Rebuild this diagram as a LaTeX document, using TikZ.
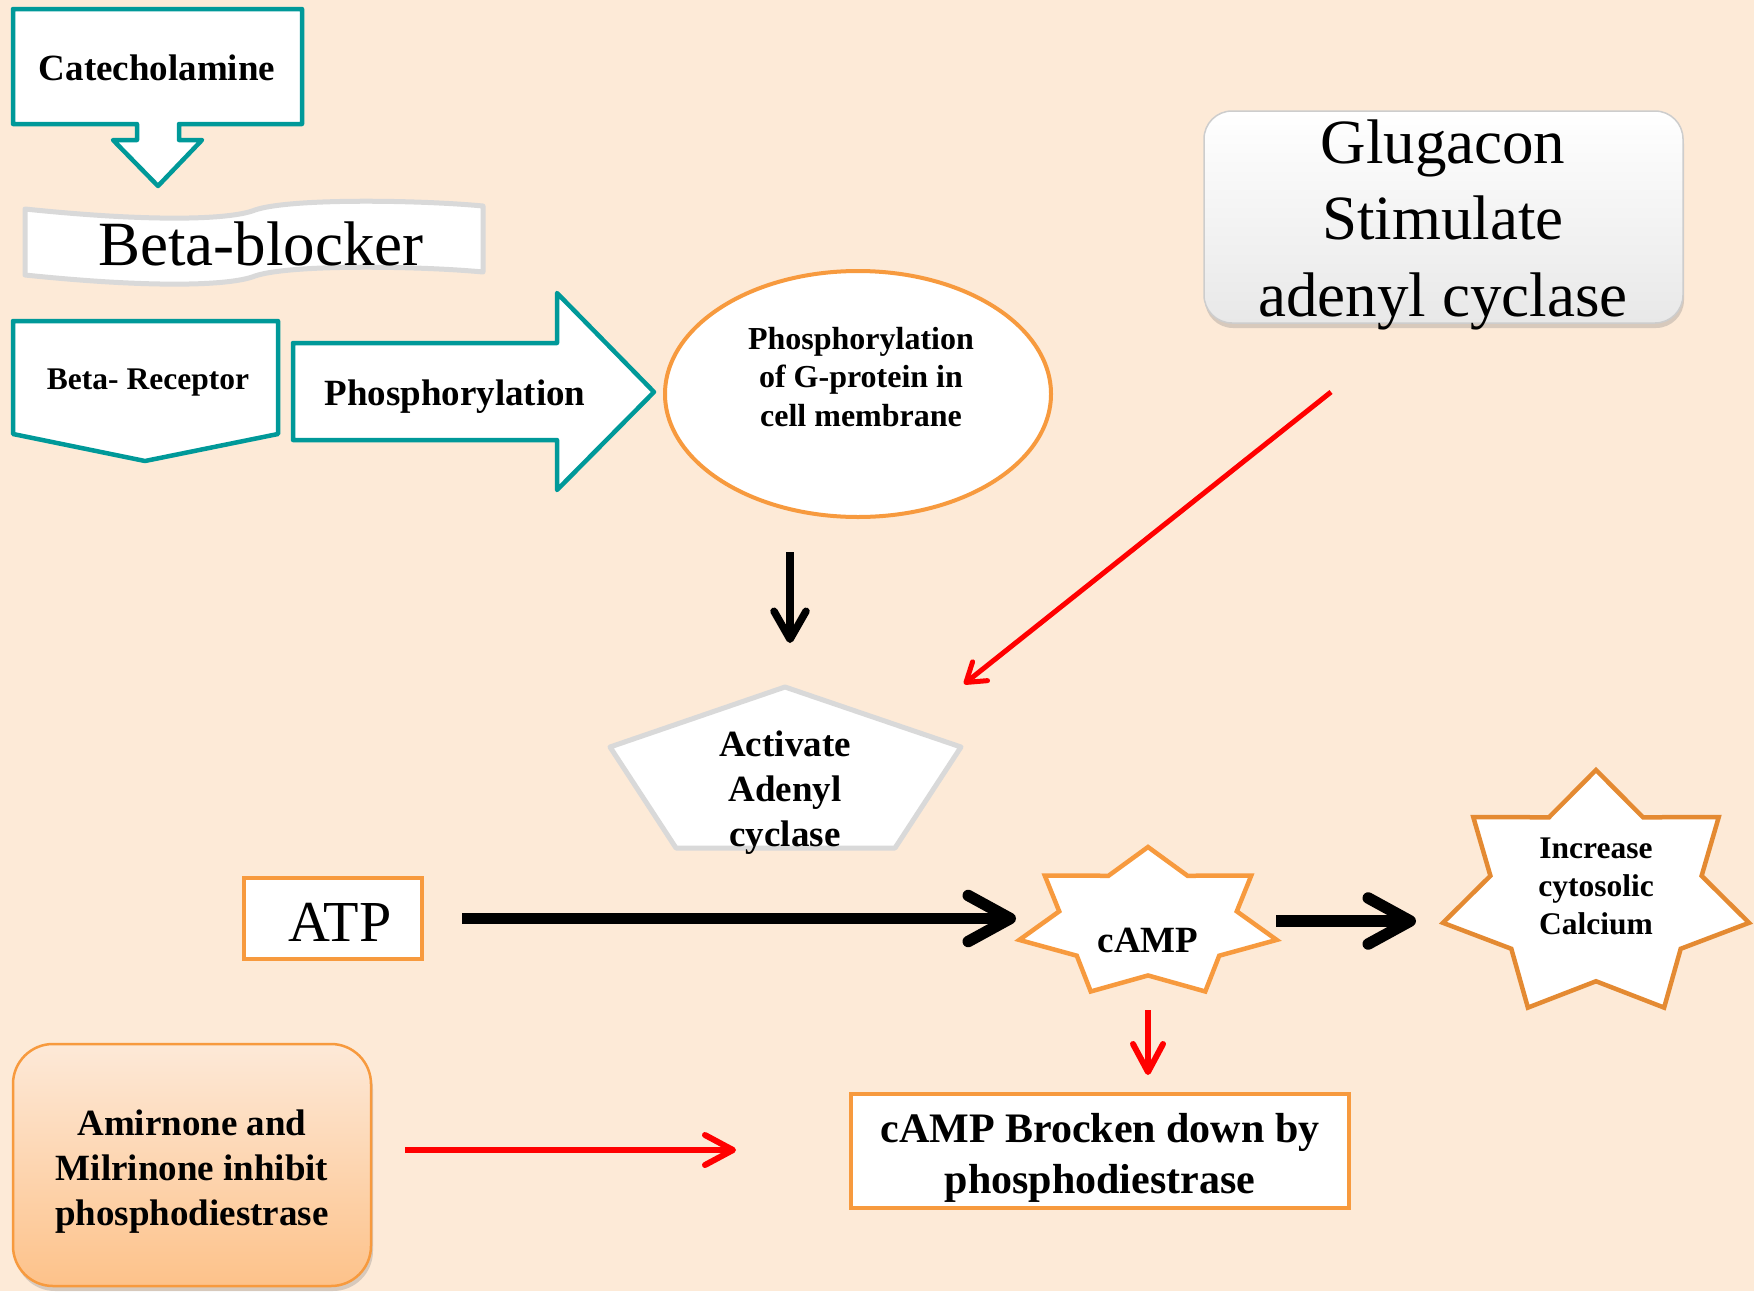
\documentclass[tikz,border=0pt]{standalone}
\usepackage{fontspec}
\setmainfont{Liberation Serif}
\usetikzlibrary{arrows.meta,shadows,shapes.geometric}
\definecolor{bg}{RGB}{253,234,215}
\definecolor{tealc}{RGB}{0,153,153}
\definecolor{org}{RGB}{247,154,62}
\definecolor{orgd}{RGB}{228,138,50}
\definecolor{gry}{RGB}{217,217,217}
\definecolor{gryd}{RGB}{205,205,205}
\definecolor{amtop}{RGB}{253,233,216}
\definecolor{ambot}{RGB}{253,194,138}
\newcommand\fs[2]{\fontsize{#1pt}{#2pt}\selectfont}
\newcommand\drawsevenstar[5]{%
  \draw[draw=#5, line width=4.5pt, fill=white] ({#1},{#2-#4})
  \foreach \k in {0,...,5}{ -- ({#1+0.69*#3*cos(90+\k*360/7+180/7)},{#2-0.69*#4*sin(90+\k*360/7+180/7)})
     -- ({#1+#3*cos(90+(\k+1)*360/7)},{#2-#4*sin(90+(\k+1)*360/7)}) }
  -- ({#1+0.69*#3*cos(90+6*360/7+180/7)},{#2-0.69*#4*sin(90+6*360/7+180/7)}) -- cycle;}
\tikzset{
  tealshape/.style={draw=tealc, line width=4.5pt, fill=white, line join=round},
  grayshape/.style={draw=gry, line width=5pt, fill=white, line join=round},
  orgbox/.style={draw=org, line width=4pt, fill=white, inner sep=0pt, align=center},
  lbl/.style={inner sep=0pt, align=center},
  fatarrow/.style={line width=11.5pt, -{Straight Barb[length=42pt,width=46pt,round]}},
  thinblack/.style={line width=7.5pt, -{Straight Barb[length=28pt,width=32pt,round]}},
  thinred/.style={draw=red, line width=5pt, -{Straight Barb[length=18pt,width=24pt,round]}},
  redarrow/.style={draw=red, line width=6pt, -{Straight Barb[length=28pt,width=30pt,round]}},
}
\begin{document}
\begin{tikzpicture}[x=1pt,y=-1pt]
\fill[bg] (0,0) rectangle (1754,1291);
\useasboundingbox (0,0) rectangle (1754,1291);

% Catecholamine callout
\draw[tealshape] (13,9) -- (302,9) -- (302,124) -- (179,124) -- (179,140) -- (202,140)
  -- (158,186) -- (113,140) -- (137,140) -- (137,124) -- (13,124) -- cycle;
\node[lbl, font=\fs{37}{44}\bfseries] (cat) at (157,68) {Catecholamine};

% Beta-blocker wave
\draw[grayshape] (25,209) .. controls (150,222) and (230,220) .. (255,210)
  .. controls (290,198) and (420,200) .. (483,206) -- (483,272)
  .. controls (420,266) and (290,264) .. (255,276)
  .. controls (230,286) and (150,288) .. (25,275) -- cycle;
\node[lbl, font=\fs{63}{76}] (bb) at (261,244) {Beta-blocker};

% Beta-Receptor pentagon
\draw[tealshape] (13,321) -- (278,321) -- (278,434) -- (145,461) -- (13,434) -- cycle;
\node[lbl, font=\fs{31.5}{38}\bfseries] (br) at (148,383) {Beta- Receptor};

% Phosphorylation block arrow
\draw[tealshape] (293,343) -- (557,343) -- (557,293) -- (654,392) -- (557,490)
  -- (557,440) -- (293,440) -- cycle;
\node[lbl, font=\fs{37}{44}\bfseries] (ph) at (455,397) {Phosphorylation};

% Ellipse
\node[draw=org, line width=4pt, fill=white, ellipse, minimum width=386pt,
  minimum height=246pt, inner sep=0pt] (phgshape) at (858,394) {};
\node[lbl, font=\fs{32}{38.5}\bfseries] (phg) at (861,377)
  {Phosphorylation\\of G-protein in\\cell membrane};

% Glugacon box
\node[draw=gryd, line width=1.5pt, rounded corners=28pt, top color=white,
  bottom color=black!9, minimum width=479pt, minimum height=212pt,
  drop shadow={shadow xshift=1pt, shadow yshift=-5pt, opacity=0.3}] (glubox) at (1443.5,217) {};
\node[lbl, font=\fs{63}{76.5}] (glu) at (1443,224.5) {Glugacon\\Stimulate\\adenyl cyclase};

% Activate pentagon
\draw[grayshape] (785,687) -- (961,747) -- (895,848) -- (676,848) -- (610,747) -- cycle;
\node[lbl, font=\fs{37}{45}\bfseries] (act) at (785,793) {Activate\\Adenyl\\cyclase};

% ATP
\node[orgbox, minimum width=178pt, minimum height=81pt] (atpbox) at (333,918.5) {};
\node[lbl, font=\fs{58}{70}] (atp) at (340,922) {ATP};

% cAMP star
\drawsevenstar{1148}{923}{132}{76}{org}
\node[lbl, font=\fs{37}{44}\bfseries] (camp) at (1148,940) {cAMP};

% Calcium star
\drawsevenstar{1596}{895}{157}{125}{orgd}
\node[lbl, font=\fs{31.5}{38}\bfseries] (calc) at (1596,886) {Increase\\cytosolic\\Calcium};

% cAMP broken down
\node[orgbox, minimum width=498pt, minimum height=114pt] (brkbox) at (1100,1151) {};
\node[lbl, font=\fs{42}{51}\bfseries] (brk) at (1100,1158) {cAMP Brocken down by\\phosphodiestrase};

% Amirnone box
\node[draw=org, line width=2.5pt, rounded corners=40pt, top color=amtop, bottom color=ambot,
  minimum width=358pt, minimum height=242pt,
  drop shadow={shadow xshift=2pt, shadow yshift=-5pt, opacity=0.3}] (amirbox) at (192,1165) {};
\node[lbl, font=\fs{37}{45}\bfseries] (amir) at (192,1172)
  {Amirnone and\\Milrinone inhibit\\phosphodiestrase};

% connector end points
\coordinate (phgOut) at (790,552);
\coordinate (actIn) at (790,643);
\coordinate (gluOut) at (1331,392);
\coordinate (actIn2) at (964,684);
\coordinate (campIn) at (1016,918.5);
\coordinate (campOut) at (1276,921);
\coordinate (calcIn) at (1416,921);
\coordinate (campDown) at (1148,1010);
\coordinate (brkIn) at (1148,1075);
\coordinate (amirOut) at (405,1150);
\coordinate (amirEnd) at (736,1150);

% connectors
\draw[thinblack] (phgOut) -- (actIn);
\draw[thinred] (gluOut) -- (actIn2);
\draw[fatarrow, shorten <=38pt] (atpbox) -- (campIn);
\draw[fatarrow] (campOut) -- (calcIn);
\draw[redarrow] (campDown) -- (brkIn);
\draw[redarrow] (amirOut) -- (amirEnd);
\end{tikzpicture}
\end{document}
